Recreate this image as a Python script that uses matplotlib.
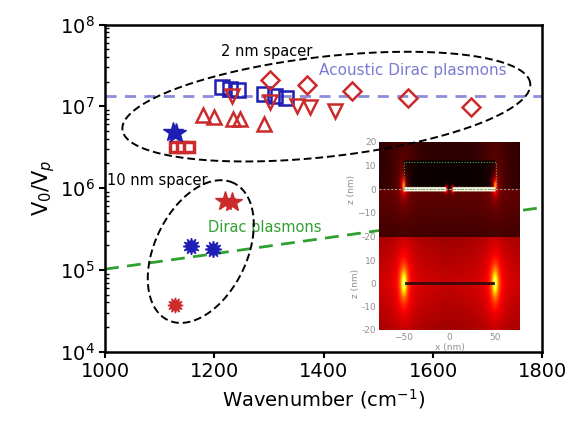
import numpy as np
import matplotlib
matplotlib.use('Agg')
import matplotlib.pyplot as plt
from matplotlib.lines import Line2D
from matplotlib.patches import Rectangle

# ---- data ----
# 2 nm spacer
sq_blue_x = [1214, 1229, 1243, 1290, 1311, 1331]
sq_blue_y = [1.72e7, 1.64e7, 1.60e7, 1.40e7, 1.34e7, 1.26e7]
dia_x = [1301, 1369, 1452, 1554, 1669]
dia_y = [2.1e7, 1.82e7, 1.54e7, 1.25e7, 9.9e6]
tri_dn_x = [1232, 1301, 1351, 1374, 1421]
tri_dn_y = [1.34e7, 1.14e7, 1.0e7, 9.7e6, 8.8e6]
tri_up_x = [1179, 1200, 1235, 1247, 1290]
tri_up_y = [7.8e6, 7.5e6, 6.9e6, 6.9e6, 6.0e6]
star_blue_x = [1124, 1130]
star_blue_y = [4.9e6, 4.7e6]
sq_red_x = [1128, 1140, 1153]
sq_red_y = [3.2e6, 3.2e6, 3.15e6]
# 10 nm spacer
star_red_x = [1220, 1232]
star_red_y = [7.0e5, 6.8e5]
burst_blue_x = [1157, 1198]
burst_blue_y = [1.96e5, 1.79e5]
burst_red_x = [1128]
burst_red_y = [3.7e4]
# reference lines
acoustic_x = [1000, 1800]
acoustic_y = [1.35e7, 1.35e7]
dirac_x = [1000, 1800]
dirac_y = [1.02e5, 5.8e5]

red = '#cc2b2b'
blue = '#1e1eb4'

fig = plt.figure(figsize=(5.79, 4.33), dpi=100)
ax = fig.add_axes([0.1813, 0.1878, 0.7556, 0.7556])

ax.plot(acoustic_x, acoustic_y, color='#8c8cdc', lw=2, dashes=(4, 3))
ax.plot(dirac_x, dirac_y, color='#2fa02f', lw=2, dashes=(5, 3))

ms_kw = dict(ls='none', mfc='none', mew=1.8)
ax.plot(sq_blue_x, sq_blue_y, marker='s', ms=10, mec=blue, **ms_kw)
ax.plot(dia_x, dia_y, marker='D', ms=9, mec=red, **ms_kw)
ax.plot(tri_dn_x, tri_dn_y, marker='v', ms=10, mec=red, **ms_kw)
ax.plot(tri_up_x, tri_up_y, marker='^', ms=10, mec=red, **ms_kw)
ax.plot(sq_red_x, sq_red_y, marker='s', ms=7.5, mec=red, ls='none', mfc='white', mew=2.5)
ax.plot(star_blue_x, star_blue_y, marker='*', ms=15, color=blue, ls='none')
ax.plot(star_red_x, star_red_y, marker='*', ms=15, color=red, ls='none')
ax.plot(burst_blue_x, burst_blue_y, marker=(12, 1, 0), ms=12, color=blue, ls='none')
ax.plot(burst_red_x, burst_red_y, marker=(12, 1, 0), ms=11, color=red, ls='none')

ax.set_yscale('log')
ax.set_xlim(1000, 1800)
ax.set_ylim(1e4, 1e8)
ax.set_xticks([1000, 1200, 1400, 1600, 1800])
ax.tick_params(axis='both', which='major', labelsize=14, direction='out', length=4, width=1.5)
ax.tick_params(axis='y', which='minor', direction='in', length=3, width=1)
ax.tick_params(axis='x', which='minor', bottom=False)
for s in ax.spines.values():
    s.set_linewidth(1.8)
ax.set_xlabel('Wavenumber (cm$^{-1}$)', fontsize=14, labelpad=4)
ax.set_ylabel('V$_0$/V$_p$', fontsize=15, labelpad=2)

ax.text(0.265, 0.905, '2 nm spacer', transform=ax.transAxes, fontsize=10.5)
ax.text(0.49, 0.845, 'Acoustic Dirac plasmons', transform=ax.transAxes,
        fontsize=11, color='#7a7ad6')
ax.text(0.005, 0.508, '10 nm spacer', transform=ax.transAxes, fontsize=10.5)
ax.text(0.235, 0.366, 'Dirac plasmons', transform=ax.transAxes,
        fontsize=10.5, color='#2fa02f')

# dashed ellipses, defined in axes pixels (437 x 327)
def ellipse(cx, cy, a, b, ang):
    t = np.linspace(0, 2 * np.pi, 300)
    th = np.radians(ang)
    dx = a * np.cos(t) * np.cos(th) - b * np.sin(t) * np.sin(th)
    dy = a * np.cos(t) * np.sin(th) + b * np.sin(t) * np.cos(th)
    return cx + dx / 437, cy + dy / 327

for cx, cy, a, b, ang in [(0.506, 0.749, 205, 50, 6.5), (0.219, 0.306, 76, 46, 64.3)]:
    ex, ey = ellipse(cx, cy, a, b, ang)
    fig.add_artist(Line2D(ex, ey, transform=ax.transAxes, color='black',
                          lw=1.4, dashes=(4, 2), zorder=5))

# ---- inset field maps ----
gx = np.linspace(-77, 77, 320)
gz = np.linspace(-20, 20, 200)
X, Z = np.meshgrid(gx, gz)

top = np.where(Z < 0, 0.13 + 0.0025 * Z, 0.05 + 0.04 * np.exp(-(np.abs(X) - 50) ** 2 / 300))
top = np.where((np.abs(X) < 50) & (Z >= 0) & (Z < 12), 0.0, top)
for xs in (-50, 50):
    r2 = ((X - xs) / 1.8) ** 2 + ((Z - 1.5) / 2.5) ** 2
    top = top + 0.6 / (1 + r2)
line = (np.abs(X) < 50) & (Z > -1.0) & (Z < 0.8) & (np.abs(X) > 4)
top = np.where(line, 0.97, top)
for xs in (-3.5, 3.5):
    top = top + 0.45 * np.exp(-((X - xs) ** 2 + Z ** 2) / 2.5)
top = np.clip(top, 0, 1)

bot = 0.30 - 0.003 * np.abs(Z) - 0.0005 * np.abs(np.abs(X) - 50)
for xs in (-50, 50):
    r2 = ((X - xs) / 3.2) ** 2 + (Z / 5.5) ** 2
    bot = bot + 0.6 / (1 + r2)
bot = np.clip(bot, 0, 1)

tick_col = '#909090'
ax_top = fig.add_axes([0.655, 0.4533, 0.243, 0.2194])
ax_bot = fig.add_axes([0.655, 0.2379, 0.243, 0.2155])
for a_, fld in ((ax_top, top), (ax_bot, bot)):
    a_.imshow(fld, cmap='hot', vmin=0, vmax=1, origin='lower',
              extent=[-77, 77, -20, 20], aspect='auto', interpolation='bilinear')
    a_.tick_params(labelsize=6.5, colors=tick_col, length=0, pad=2)
    a_.set_ylabel('z (nm)', fontsize=6.5, color=tick_col, labelpad=1)
    for s in a_.spines.values():
        s.set_visible(False)
ax_top.set_yticks([-10, 0, 10, 20])
ax_bot.set_yticks([-20, -10, 0, 10, 20])
ax_bot.set_yticklabels(['-20', '-10', '0', '10', '-20'])
ax_top.set_xticks([])
ax_top.axhline(0, color='#9a9a9a', lw=0.8, ls=(0, (2, 1.5)))
ax_top.add_patch(Rectangle((-50, 0), 101, 11.6, fill=False, ec='#4caf50',
                           lw=0.8, ls=(0, (1, 1.5))))
ax_bot.plot([-48, 48], [0, 0], color='#3a0a0a', lw=2)
ax_bot.set_xticks([-50, 0, 50])
ax_bot.set_xlabel('x (nm)', fontsize=6.5, color=tick_col, labelpad=1)

fig.savefig('out.png', dpi=100)
